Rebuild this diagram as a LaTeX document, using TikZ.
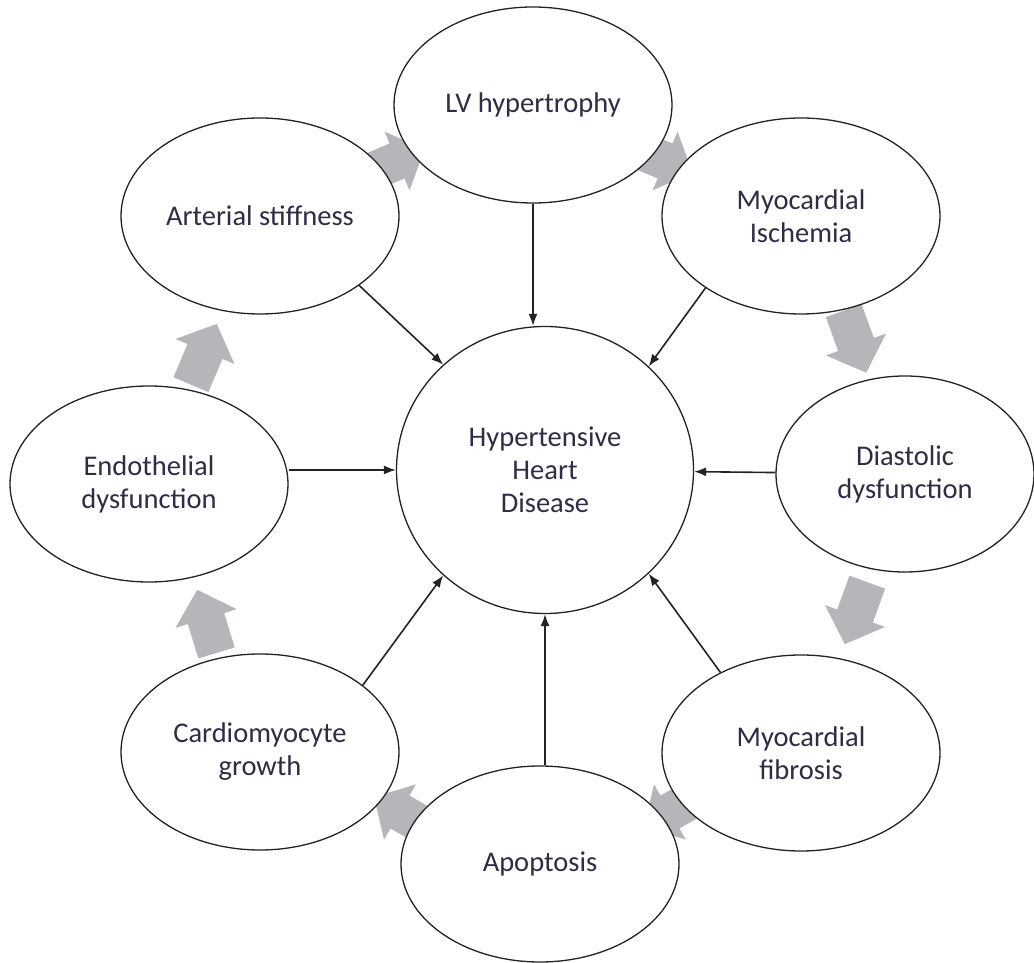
\documentclass[tikz,border=0pt]{standalone}
\usepackage{fontspec}
\setmainfont{Carlito}
\usetikzlibrary{arrows.meta,shapes.geometric}
\definecolor{inkc}{RGB}{45,45,70}
\definecolor{blockgray}{RGB}{180,182,186}
\definecolor{edgec}{RGB}{35,35,35}
\tikzset{
  bubble/.style={ellipse, draw=edgec, line width=1.3pt, fill=white, inner sep=0pt,
    minimum width=278pt, minimum height=196pt, align=center, text=inkc,
    font=\fontsize{28.5}{33}\selectfont},
  link/.style={draw=edgec, line width=1.6pt, -{Latex[length=12pt,width=9pt]}},
  flowarrow/.pic={\fill[blockgray] (-36,-19) -- (0,-19) -- (0,-32) -- (30,0)
    -- (0,32) -- (0,19) -- (-36,19) -- cycle;}
}
\begin{document}
\begin{tikzpicture}[x=1pt,y=1pt]
\useasboundingbox (0,0) rectangle (1034,962);
% grey cycle arrows, partly covered by the bubbles drawn afterwards
\pic[rotate=67]   at (205,610.5) {flowarrow};
\pic[rotate=107]  at (206,343.5) {flowarrow};
\pic[rotate=-70]  at (856,617.5) {flowarrow};
\pic[rotate=-110] at (855,346)   {flowarrow};
\pic[rotate=23]   at (397,801)   {flowarrow};
\pic[rotate=-23]  at (665,801)   {flowarrow};
\pic[rotate=150]  at (400,150)   {flowarrow};
\pic[rotate=-150] at (670,150)   {flowarrow};
% bubbles
\node[bubble] (lv)   at (533,857) {LV hypertrophy};
\node[bubble] (art)  at (260,746) {Arterial stiffness};
\node[bubble] (mi)   at (801,746) {Myocardial\\Ischemia};
\node[bubble, minimum width=258pt] (dia) at (905,488) {Diastolic\\dysfunction};
\node[bubble] (endo) at (149,478) {Endothelial\\dysfunction};
\node[bubble, minimum width=297pt, minimum height=287pt] (hhd) at (545,492)
  {Hypertensive\\Heart\\Disease};
\node[bubble] (car)  at (260,210) {Cardiomyocyte\\growth};
\node[bubble] (fib)  at (801,209) {Myocardial\\fibrosis};
\node[bubble] (apo)  at (540,98)  {Apoptosis};
% links into the central disease node
\draw[link] (lv.south) -- (hhd.north -| lv.south);
\draw[link] (art.-35) -- (hhd.134);
\draw[link] (mi.217) -- (hhd.45);
\draw[link] (dia) -- (hhd);
\draw[link] (endo.east |- hhd.west) -- (hhd.west);
\draw[link] (car.33) -- (hhd.226);
\draw[link] (apo.north -| hhd.south) -- (hhd.south);
\draw[link] (fib.135) -- (hhd.-45);
\end{tikzpicture}
\end{document}
